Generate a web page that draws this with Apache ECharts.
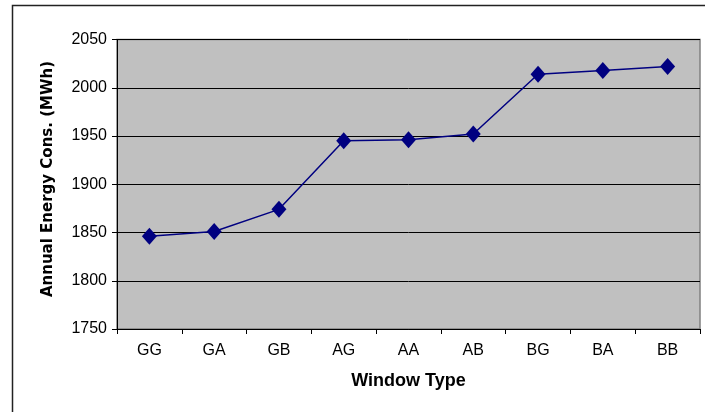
<!DOCTYPE html>
<html>
<head>
<meta charset="utf-8">
<script src="https://cdn.jsdelivr.net/npm/echarts@6/dist/echarts.min.js"></script>
<style>
  html, body { margin: 0; padding: 0; background: #fff; }
  #chart { width: 705px; height: 412px; }
</style>
</head>
<body>
<div id="chart"></div>
<script>
// Window type combinations and annual energy consumption (MWh)
const windowTypes = ['GG', 'GA', 'GB', 'AG', 'AA', 'AB', 'BG', 'BA', 'BB'];
const energyMWh = [1846, 1851, 1874, 1945, 1946, 1952, 2014, 2018, 2022];
const yTicks = { min: 1750, max: 2050, step: 50 };

const chart = echarts.init(document.getElementById('chart'), null, { renderer: 'canvas' });

chart.setOption({
  animation: false,
  backgroundColor: '#ffffff',
  graphic: [{
    type: 'rect',
    shape: { x: 12.5, y: 5.5, width: 760, height: 480 },
    style: { fill: 'none', stroke: '#222', lineWidth: 1.5 },
    silent: true
  }, {
    type: 'text',
    x: 48, y: 179,
    rotation: Math.PI / 2,
    style: {
      text: 'Annual Energy Cons. (MWh)',
      fontFamily: 'DejaVu Sans, sans-serif',
      fontWeight: 'bold',
      fontSize: 15,
      fill: '#000',
      align: 'center',
      verticalAlign: 'middle'
    },
    silent: true
  }],
  grid: {
    left: 117, right: 5, top: 39.5, bottom: 83,
    show: true,
    backgroundColor: '#c0c0c0',
    borderColor: '#808080',
    borderWidth: 1.5
  },
  xAxis: {
    type: 'category',
    data: windowTypes,
    boundaryGap: true,
    name: 'Window Type',
    nameLocation: 'middle',
    nameGap: 43,
    nameTextStyle: { fontFamily: 'Liberation Sans, Arial, sans-serif', fontWeight: 'bold', fontSize: 18, color: '#000' },
    axisLine: { show: true, lineStyle: { color: '#000', width: 1 } },
    axisTick: { show: true, inside: false, length: 5, lineStyle: { color: '#000' } },
    axisLabel: { margin: 14, fontFamily: 'Liberation Sans, Arial, sans-serif', fontSize: 16, color: '#000' },
    splitLine: { show: false }
  },
  yAxis: {
    type: 'value',
    min: yTicks.min,
    max: yTicks.max,
    interval: yTicks.step,
    axisLine: { show: true, lineStyle: { color: '#000', width: 1 } },
    axisTick: { show: true, inside: false, length: 5, lineStyle: { color: '#000' } },
    axisLabel: {
      margin: 10,
      formatter: v => String(v),
      fontFamily: 'Liberation Sans, Arial, sans-serif',
      fontSize: 16,
      color: '#000'
    },
    splitLine: { show: true, lineStyle: { color: '#000', width: 1 } }
  },
  series: [{
    type: 'line',
    data: energyMWh,
    symbol: 'diamond',
    symbolSize: [15, 17],
    lineStyle: { color: '#000080', width: 1.5 },
    itemStyle: { color: '#000080' }
  }]
});
</script>
</body>
</html>
